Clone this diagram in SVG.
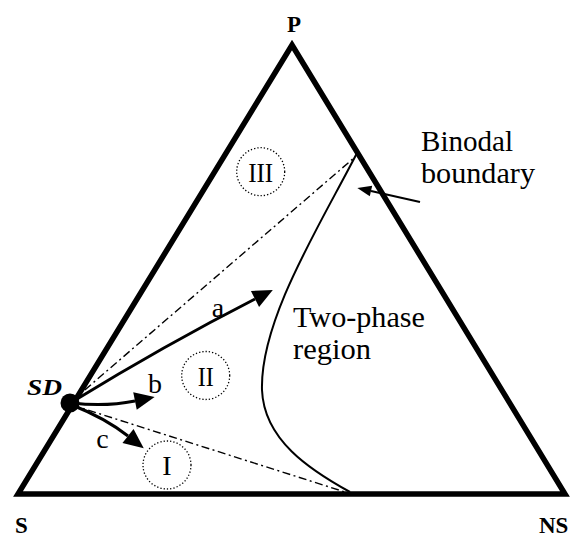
<svg xmlns="http://www.w3.org/2000/svg" width="570" height="538" viewBox="0 0 570 538">
<style>
.lbl{font-family:"Liberation Serif","Times New Roman",serif;fill:#000}
.big{font-size:30px}
.mid{font-size:28px}
.corner{font-size:23px;font-weight:bold}
.tri{fill:none;stroke:#000;stroke-width:5.5;stroke-linejoin:miter}
.dashdot{fill:none;stroke:#000;stroke-width:1.4;stroke-dasharray:8 3.5 2 3.5}
.region{fill:none;stroke:#000;stroke-width:1.3;stroke-dasharray:1.3 2}
.arrow{fill:none;stroke:#000;stroke-width:3}
.thin{fill:none;stroke:#000;stroke-width:2}
</style>
<defs>
<marker id="head" markerUnits="userSpaceOnUse" markerWidth="22" markerHeight="22" refX="0" refY="0" viewBox="0 -11 22 22" orient="auto" overflow="visible">
<path d="M0,-9 L20,0 L0,9 Z" fill="#000"/>
</marker>
<marker id="headSmall" markerUnits="userSpaceOnUse" markerWidth="16" markerHeight="16" refX="0" refY="0" viewBox="0 -8 16 16" orient="auto" overflow="visible">
<path d="M0,-5.5 L14,0 L0,5.5 Z" fill="#000"/>
</marker>
</defs>
<rect width="570" height="538" fill="#fff"/>
<g id="triangle">
<path class="tri" d="M292,45 L565,494 L18,494 Z"/>
</g>
<g id="connectors">
<path class="thin" d="M357,153 C320,225 260,320 262,390 C264,440 310,470 350,492"/>
<path class="dashdot" d="M72,401 L355,157"/>
<path class="dashdot" d="M72,405 L345,492"/>
<path class="arrow" d="M72,402 Q165,345 255,299" marker-end="url(#head)"/>
<path class="arrow" d="M72,403 Q105,407 135,401" marker-end="url(#head)"/>
<path class="arrow" d="M72,405 Q105,418 128,436" marker-end="url(#head)"/>
<path class="thin" d="M420,202 L371,191" marker-end="url(#headSmall)"/>
</g>
<g id="SD">
<circle cx="70" cy="403" r="9.5" fill="#000"/>
<text class="lbl" x="27" y="395" font-size="23" font-weight="bold" font-style="italic" textLength="35" lengthAdjust="spacingAndGlyphs">SD</text>
</g>
<g id="P"><text class="lbl corner" x="294" y="32" text-anchor="middle">P</text></g>
<g id="S"><text class="lbl corner" x="15" y="533">S</text></g>
<g id="NS"><text class="lbl corner" x="539" y="533">NS</text></g>
<g id="region-III">
<circle class="region" cx="260.7" cy="171.7" r="24"/>
<text class="lbl mid" x="260.7" y="181.5" text-anchor="middle" textLength="25" lengthAdjust="spacingAndGlyphs">III</text>
</g>
<g id="region-II">
<circle class="region" cx="205.7" cy="375.5" r="24"/>
<text class="lbl mid" x="205.7" y="385.5" text-anchor="middle" textLength="16" lengthAdjust="spacingAndGlyphs">II</text>
</g>
<g id="region-I">
<circle class="region" cx="167" cy="465" r="24"/>
<text class="lbl mid" x="167" y="475" text-anchor="middle">I</text>
</g>
<g id="label-a"><text class="lbl mid" x="218" y="317" text-anchor="middle">a</text></g>
<g id="label-b"><text class="lbl mid" x="155" y="393" text-anchor="middle">b</text></g>
<g id="label-c"><text class="lbl mid" x="102.5" y="448" text-anchor="middle">c</text></g>
<g id="two-phase">
<text class="lbl big" x="293" y="327" textLength="132" lengthAdjust="spacingAndGlyphs">Two-phase</text>
<text class="lbl big" x="293" y="359" textLength="78" lengthAdjust="spacingAndGlyphs">region</text>
</g>
<g id="binodal">
<text class="lbl big" x="421" y="151" textLength="92" lengthAdjust="spacingAndGlyphs">Binodal</text>
<text class="lbl big" x="421" y="183" textLength="114" lengthAdjust="spacingAndGlyphs">boundary</text>
</g>
</svg>
